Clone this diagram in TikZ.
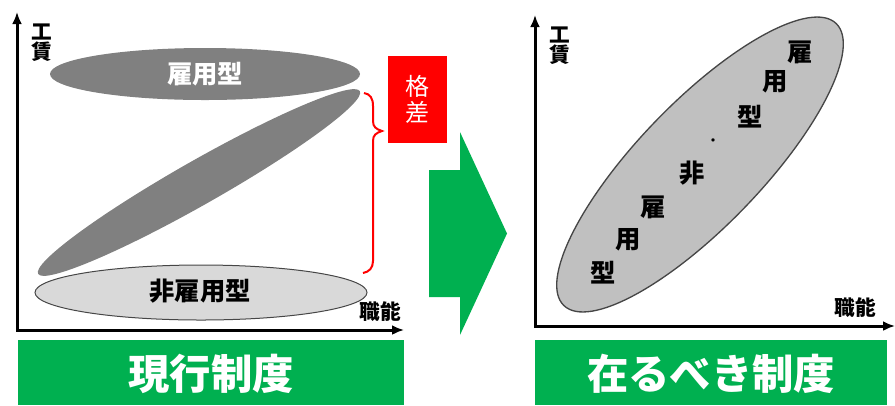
\documentclass[tikz,border=0pt]{standalone}
\usepackage{fontspec}
\newfontfamily\cjk{Noto Sans CJK JP}
\usetikzlibrary{arrows.meta}
\definecolor{kgreen}{RGB}{0,176,80}
\definecolor{kdark}{RGB}{128,128,128}
\definecolor{klight}{RGB}{217,217,217}
\definecolor{kmid}{RGB}{192,192,192}
\definecolor{kline}{RGB}{70,70,70}
\tikzset{
  axis/.style={line width=2.25pt, {Latex[length=9pt,width=7.5pt]}-{Latex[length=9pt,width=7.5pt]}},
  ax label/.style={inner sep=0.75pt, align=center, font=\cjk\bfseries\fontsize{15.5}{15}\selectfont},
  blob label/.style={inner sep=0.75pt, font=\cjk\bfseries\fontsize{19}{20}\selectfont},
  bar title/.style={inner sep=0.75pt, text=white, font=\cjk\bfseries\fontsize{31}{32}\selectfont},
}
\begin{document}
\begin{tikzpicture}[x=0.75pt,y=0.75pt,yscale=-1,xscale=1]
    \useasboundingbox (0,0) rectangle (895,405);
    % left chart: current system
    \coordinate (lo) at (17,330);
    \coordinate (ly) at (17,12);
    \coordinate (lx) at (404,330);
    \draw [axis] (ly) -- (lo) -- (lx);
    \node [ax label] (lwage) at (42,43) {工\\賃};
    \node [ax label] (lskill) at (380,312) {職能};
    \fill [kdark] (205,74) ellipse (155 and 26);
    \node [blob label, text=white] (regular) at (205,74) {雇用型};
    \fill [kdark, rotate around={-29.6:(199,182.5)}] (199,182.5) ellipse (185 and 22);
    \draw [fill=klight, draw=kline, line width=0.75pt] (201,292.5) ellipse (166 and 27.5);
    \node [blob label] (nonregular) at (200,291) {非雇用型};
    \draw [red, line width=1.5pt] (364,93) .. controls (370,94) and (373,98) .. (373,106) -- (373,121) .. controls (373,127) and (376,129) .. (382,131) .. controls (376,133) and (373,135) .. (373,141) -- (373,261) .. controls (373,268) and (369,272) .. (363,273);
    \fill [red] (388,56) rectangle (447,143);
    \node [inner sep=0.75pt, align=center, text=white, font=\cjk\fontsize{18}{19}\selectfont] (gap) at (417.5,99.5) {格\\差};
    \fill [kgreen] (18,340) rectangle (404,405);
    \node [bar title] (now) at (211,374) {現行制度};
    % arrow
    \fill [kgreen] (429,170) -- (460,170) -- (460,132) -- (507,233.5) -- (460,335) -- (460,297) -- (429,297) -- cycle;
    % right chart: ideal system
    \coordinate (ro) at (535,326);
    \coordinate (ry) at (535,15);
    \coordinate (rx) at (895,326);
    \draw [axis] (ry) -- (ro) -- (rx);
    \node [ax label] (rwage) at (560,46) {工\\賃};
    \node [ax label] (rskill) at (855,308) {職能};
    \draw [fill=kmid, draw=kline, line width=1pt, rotate around={-46:(700,164.5)}] (700,164.5) ellipse (196 and 62);
    \node [blob label] (c1) at (800,52) {雇};
    \node [blob label] (c2) at (775,82) {用};
    \node [blob label] (c3) at (750,117) {型};
    \node [inner sep=0.75pt, font=\cjk\fontsize{12}{12}\selectfont] (c4) at (713,143) {・};
    \node [blob label] (c5) at (692,173) {非};
    \node [blob label] (c6) at (653,207) {雇};
    \node [blob label] (c7) at (628,240) {用};
    \node [blob label] (c8) at (603,273) {型};
    \fill [kgreen] (535,340) rectangle (887,405);
    \node [bar title] (ideal) at (711,374) {在るべき制度};
\end{tikzpicture}
\end{document}
